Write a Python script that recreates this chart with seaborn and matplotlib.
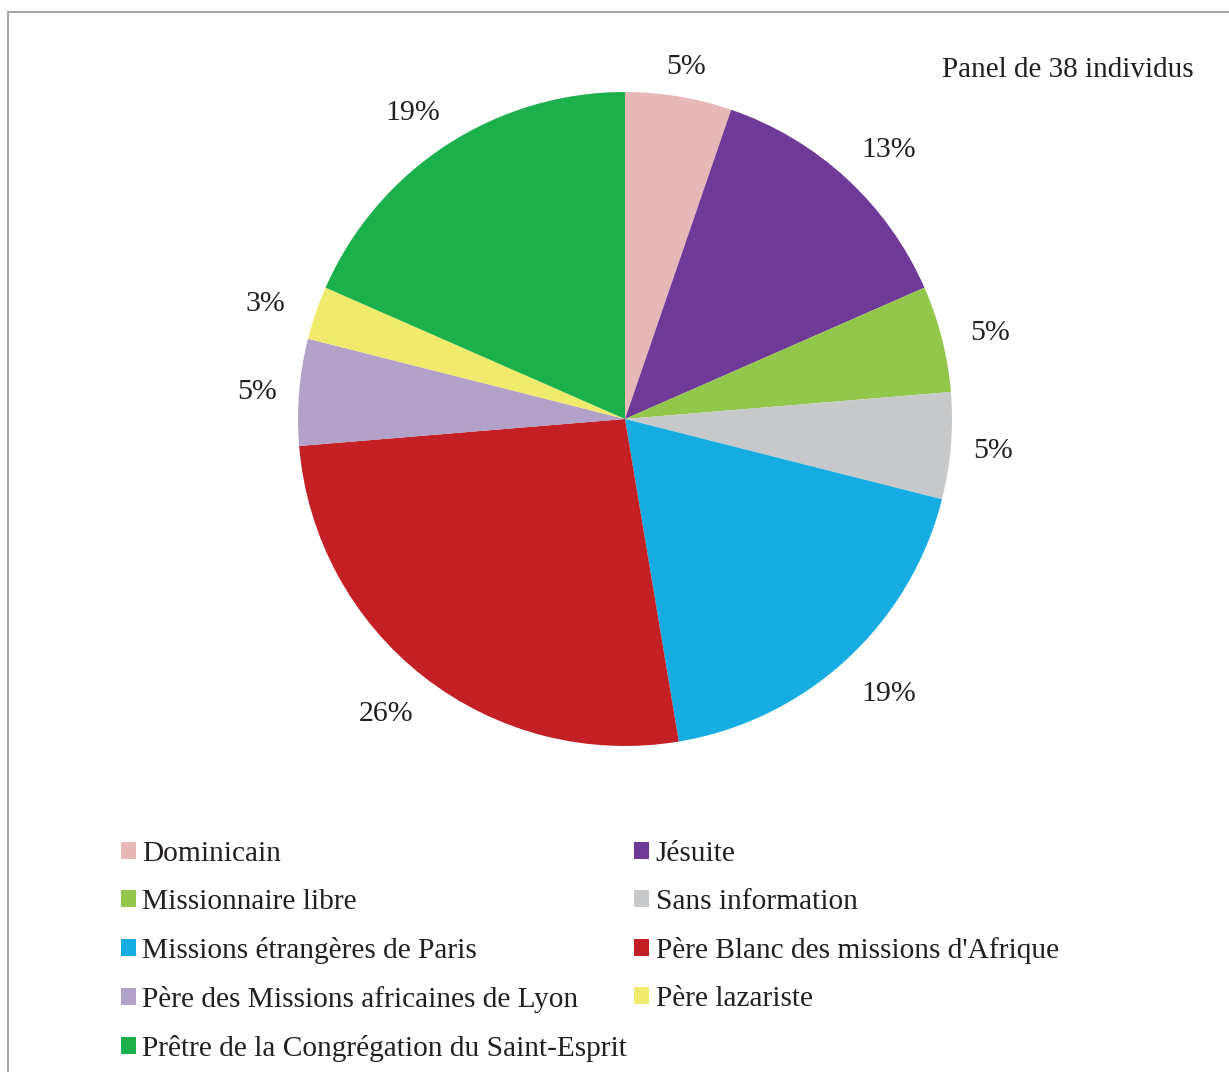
import numpy as np
import matplotlib.pyplot as plt
import matplotlib.patches as mpatches
import seaborn as sns

# counts per congregation (panel of 38 people)
categories = ["Dominicain", "Jésuite", "Missionnaire libre", "Sans information",
              "Missions étrangères de Paris", "Père Blanc des missions d'Afrique",
              "Père des Missions africaines de Lyon", "Père lazariste",
              "Prêtre de la Congrégation du Saint-Esprit"]
counts = [2, 5, 2, 2, 7, 10, 2, 1, 7]
pct_labels = ["5%", "13%", "5%", "5%", "19%", "26%", "5%", "3%", "19%"]
colors = ["#E6B9B8", "#6F3A97", "#92C74C", "#C8C9CA", "#17ADE3",
          "#C32026", "#B2A1C8", "#F0EB6C", "#1CB04C"]

sns.set_theme(style="white")
plt.rcParams['font.family'] = ['Liberation Serif', 'DejaVu Serif']
text_color = "#231F20"

W, H = 1229, 1072
fig = plt.figure(figsize=(W / 100, H / 100), dpi=100)

# outer frame (runs off the right and bottom edges)
fig.patches.append(mpatches.Rectangle((8 / W, -0.1), 1.2, 1 - 12 / H + 0.1,
                                      transform=fig.transFigure, fill=False,
                                      edgecolor="#A6A6A6", linewidth=1.5))

cx, cy, r = 625, 419, 327
ax = fig.add_axes([(cx - r) / W, (H - cy - r) / H, 2 * r / W, 2 * r / H])
wedges, _ = ax.pie(counts, colors=colors, startangle=90, counterclock=False,
                   wedgeprops=dict(edgecolor="white", linewidth=0))
ax.set_xlim(-1, 1)
ax.set_ylim(-1, 1)
ax.set_aspect("equal")
ax.axis("off")

# percentage labels just outside the slices (pushed a bit further on diagonals)
total = sum(counts)
cum = 0
for c, lab in zip(counts, pct_labels):
    mid = np.deg2rad(90 - (cum + c / 2) / total * 360)
    cum += c
    s2 = abs(np.sin(2 * mid))
    x = (1.116 + 0.076 * s2) * np.cos(mid)
    y = (1.086 + 0.046 * s2) * np.sin(mid) - 0.009
    ax.text(x, y, lab, ha="center", va="center", fontsize=21.5, color=text_color)

fig.text(1194 / W, 1 - 77 / H, "Panel de 38 individus", ha="right",
         va="baseline", fontsize=21, color=text_color)

# legend in row order (two columns)
order = [0, 2, 4, 6, 8, 1, 3, 5, 7]
leg = fig.legend([wedges[i] for i in order], [categories[i] for i in order],
                 ncol=2, loc="upper left", bbox_to_anchor=(121 / W, 1 - 841 / H),
                 frameon=False, fontsize=21.2, handlelength=0.5, handleheight=0.5,
                 handletextpad=0.22, labelspacing=0.75, columnspacing=0.25,
                 borderpad=0, borderaxespad=0)
for t in leg.get_texts():
    t.set_color(text_color)

fig.savefig("out.png", dpi=100)
